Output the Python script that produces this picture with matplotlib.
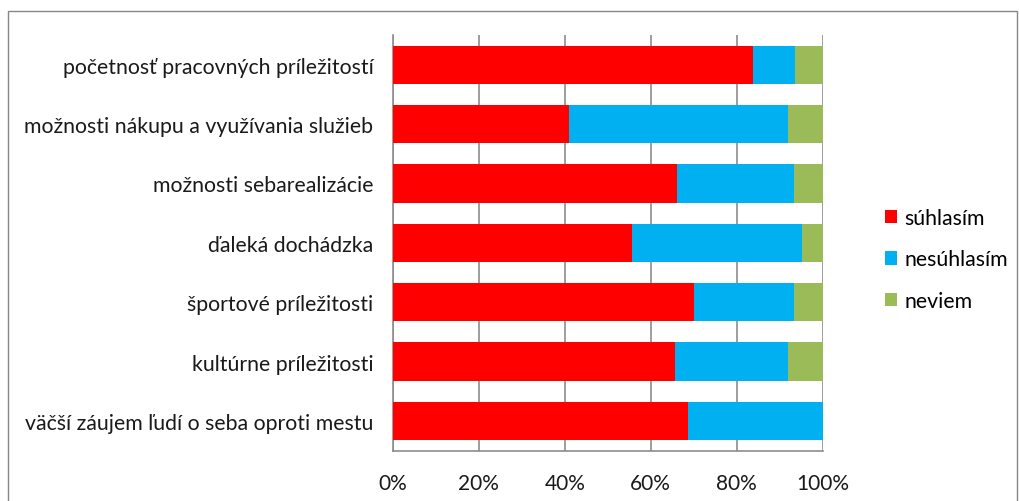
import matplotlib
matplotlib.use('Agg')
import matplotlib.pyplot as plt
import numpy as np
from matplotlib.patches import Rectangle

plt.rcParams['font.family'] = ['Lato', 'DejaVu Sans']

# kategórie (zhora nadol)
kategorie = ['početnosť pracovných príležitostí',
             'možnosti nákupu a využívania služieb',
             'možnosti sebarealizácie',
             'ďaleká dochádzka',
             'športové príležitosti',
             'kultúrne príležitosti',
             'väčší záujem ľudí o seba oproti mestu']
suhlasim = [83.8, 41.0, 66.1, 55.7, 70.1, 65.6, 68.7]
nesuhlasim = [9.7, 50.9, 27.2, 39.5, 23.2, 26.3, 31.3]
neviem = [6.5, 8.1, 6.7, 4.8, 6.7, 8.1, 0.0]
serie = ['súhlasím', 'nesúhlasím', 'neviem']
farby = ['#FF0000', '#00B0F0', '#9BBB59']
x_ticky = [0, 20, 40, 60, 80, 100]

fig = plt.figure(figsize=(10.19, 5.02), dpi=100)
ax = fig.add_axes([0.3854, 0.1002, 0.422, 0.8281])

# rámček grafu
fig.patches.append(Rectangle((8 / 1019, -0.05), 1009 / 1019, 1 - 12 / 502 + 0.05,
                             transform=fig.transFigure, fill=False,
                             edgecolor='#868686', linewidth=1.0))

y = np.arange(len(kategorie))
left = np.zeros(len(kategorie))
for vals, nazov, farba in zip([suhlasim, nesuhlasim, neviem], serie, farby):
    ax.barh(y, vals, left=left, height=0.645, color=farba, label=nazov, zorder=3)
    left = left + np.array(vals)

ax.set_xlim(0, 100)
ax.set_ylim(len(kategorie) - 0.5, -0.5)
ax.set_yticks(y)
ax.set_yticklabels(kategorie, fontsize=15.3, color='#1a1a1a')
ax.set_xticks(x_ticky)
ax.set_xticklabels([f'{t}%' for t in x_ticky], fontsize=15, color='#1a1a1a')
ax.tick_params(axis='y', length=0, pad=14)
ax.tick_params(axis='x', length=0, pad=16)
ax.grid(axis='x', color='#8c8c8c', linewidth=1.2, zorder=0)
for s in ['top', 'right']:
    ax.spines[s].set_visible(False)
ax.spines['bottom'].set_color('#8c8c8c')
ax.spines['left'].set_color('#8c8c8c')
ax.spines['bottom'].set_linewidth(1.2)
ax.spines['left'].set_linewidth(1.2)

ax.legend(loc='center left', bbox_to_anchor=(1.1, 0.46), frameon=False,
          fontsize=15.3, handlelength=0.58, handleheight=0.58, handletextpad=0.35,
          labelspacing=1.0)

fig.savefig('out.png', dpi=100)
